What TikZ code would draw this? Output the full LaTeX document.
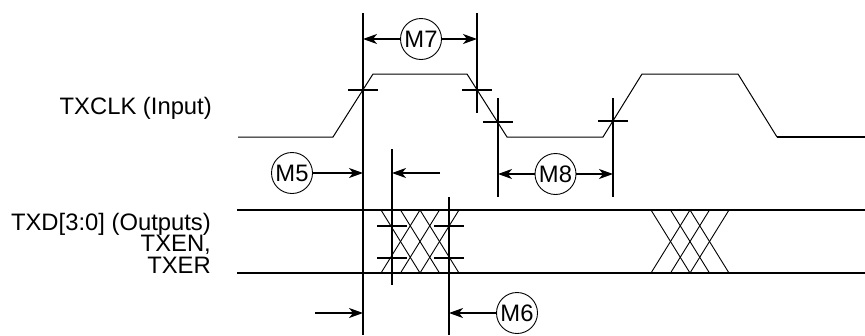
\documentclass[tikz,border=0pt]{standalone}
\usepackage{fontspec}
\setmainfont{Liberation Sans}
\usetikzlibrary{arrows.meta}
\begin{document}
\begin{tikzpicture}[x=1pt,y=-1pt,
  lbl/.style={font=\fontsize{23.8}{21.5}\selectfont, inner sep=0pt, anchor=base east, align=right},
  mcircle/.style={draw, circle, line width=0.9pt, minimum size=41pt, inner sep=0pt, font=\fontsize{23.8}{28}\selectfont},
  wave/.style={line width=1pt, line join=miter},
  bus/.style={line width=2pt},
  xo/.style={line width=0.9pt},
  refline/.style={line width=1.8pt},
  tickline/.style={line width=1.5pt},
  dim/.style={line width=1.5pt, -{Stealth[length=14pt,width=10pt,inset=4pt]}}
]
\useasboundingbox (0,0) rectangle (865,335);
% labels
\node[lbl] (lclk) at (212,114) {TXCLK (Input)};
\node[lbl] (ltxd) at (211,273) {TXD[3:0] (Outputs)\\TXEN,\\TXER};
% clock waveform
\draw[wave] (238,137) -- (333,137) -- (373,74) -- (467,74) -- (507,137) -- (603,137) -- (642,74) -- (738,74) -- (777,137);
\draw[line width=2pt] (777,137) -- (865,137);
% data bus
\draw[bus] (237,210) -- (865,210);
\draw[bus] (237,273) -- (865,273);
\foreach \a in {381,651}{
  \foreach \i in {0,1,2}{
    \draw[xo] ({\a+19.5*\i},210) -- ({\a+19.5*\i+39},273);
    \draw[xo] ({\a+19.5*\i+39},210) -- ({\a+19.5*\i},273);
  }
}
% reference verticals
\coordinate (v1t) at (363,13);  \coordinate (v1b) at (363,335);
\coordinate (v2t) at (477,13);  \coordinate (v2b) at (477,113);
\coordinate (v3t) at (498,98);  \coordinate (v3b) at (498,197);
\coordinate (v4t) at (613,98);  \coordinate (v4b) at (613,197);
\coordinate (v5t) at (392,149); \coordinate (v5b) at (392,285);
\coordinate (v6t) at (449,197); \coordinate (v6b) at (449,335);
\foreach \v in {v1,v2,v3,v4,v5,v6}{\draw[refline] (\v t) -- (\v b);}
% crosshair ticks
\foreach \x/\y in {363/90,477/90,498/122,613/121,392/226,392/258,449/226,449/258}{
  \draw[tickline] (\x-15,\y) -- (\x+15,\y);
}
% M7
\node[mcircle] (m7) at (421,39) {M7};
\coordinate (m7l) at (363,39); \coordinate (m7r) at (477,39);
\draw[dim] (m7) -- (m7l);
\draw[dim] (m7) -- (m7r);
% M8
\node[mcircle] (m8) at (555.5,174) {M8};
\coordinate (m8l) at (498,174); \coordinate (m8r) at (613,174);
\draw[dim] (m8) -- (m8l);
\draw[dim] (m8) -- (m8r);
% M5
\node[mcircle] (m5) at (292,173) {M5};
\coordinate (m5r) at (363,173);
\coordinate (m5s) at (440,173); \coordinate (m5e) at (392,173);
\draw[dim] (m5) -- (m5r);
\draw[dim] (m5s) -- (m5e);
% M6
\node[mcircle] (m6) at (517,313) {M6};
\coordinate (m6l) at (449,313);
\coordinate (m6s) at (315,313); \coordinate (m6e) at (363,313);
\draw[dim] (m6) -- (m6l);
\draw[dim] (m6s) -- (m6e);
\end{tikzpicture}
\end{document}
